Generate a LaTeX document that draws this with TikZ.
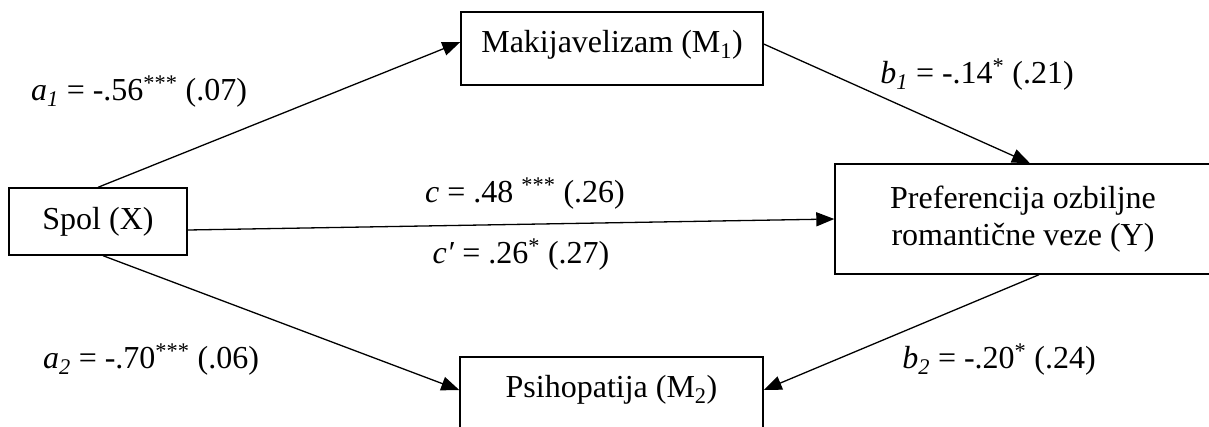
\documentclass[tikz,border=0pt]{standalone}
\usepackage{fontspec}
\setmainfont{Liberation Serif}
\usetikzlibrary{arrows.meta}
\begin{document}
\begin{tikzpicture}[x=1pt,y=-1pt,
  box/.style={draw, line width=1.4pt, inner sep=0pt, align=center,
    font=\fontsize{32}{37}\selectfont},
  lbl/.style={anchor=base, inner sep=0pt, font=\fontsize{32}{37}\selectfont},
  arr/.style={line width=1.3pt, -{Triangle[length=18pt,width=14pt]}}]
\useasboundingbox (0,0) rectangle (1209,426);
\clip (0,0) rectangle (1209,426);
% boxes
\node[box, minimum width=178pt, minimum height=67pt] (X) at (98,221.5) {Spol (X)};
\node[box, minimum width=302pt, minimum height=73pt, text height=22pt, text depth=15pt] (M1) at (612,48.5) {Makijavelizam (M\textsubscript{1})};
\node[box, minimum width=376pt, minimum height=110pt] (Y) at (1023,219) {Preferencija ozbiljne\\romantične veze (Y)};
\node[box, minimum width=303pt, minimum height=73pt, text height=22pt, text depth=15pt] (M2) at (611.5,393.5) {Psihopatija (M\textsubscript{2})};
% connectors
\draw[arr] (X.north) -- ([yshift=6.5pt]M1.west);
\draw[arr] ([yshift=4.5pt]M1.east) -- ([xshift=7pt]Y.north);
\draw[arr] ([yshift=-8.5pt]X.east) -- (Y.west);
\draw[arr] ([xshift=5pt]X.south) -- ([yshift=3.5pt]M2.west);
\draw[arr] ([xshift=16pt]Y.south) -- ([yshift=3.5pt]M2.east);
% labels
\node[lbl] (la1) at (139,100) {\textit{a}\textsubscript{\textit{1}} = -.56\textsuperscript{***} (.07)};
\node[lbl] (lb1) at (977,83) {\textit{b}\textsubscript{\textit{1}} = -.14\textsuperscript{*} (.21)};
\node[lbl] (lc) at (525,202) {\textit{c} = .48 \textsuperscript{***} (.26)};
\node[lbl] (lcp) at (521,263) {\textit{c′} = .26\textsuperscript{*} (.27)};
\node[lbl] (la2) at (151,368) {\textit{a}\textsubscript{\textit{2}} = -.70\textsuperscript{***} (.06)};
\node[lbl] (lb2) at (999,368) {\textit{b}\textsubscript{\textit{2}} = -.20\textsuperscript{*} (.24)};
\end{tikzpicture}
\end{document}
